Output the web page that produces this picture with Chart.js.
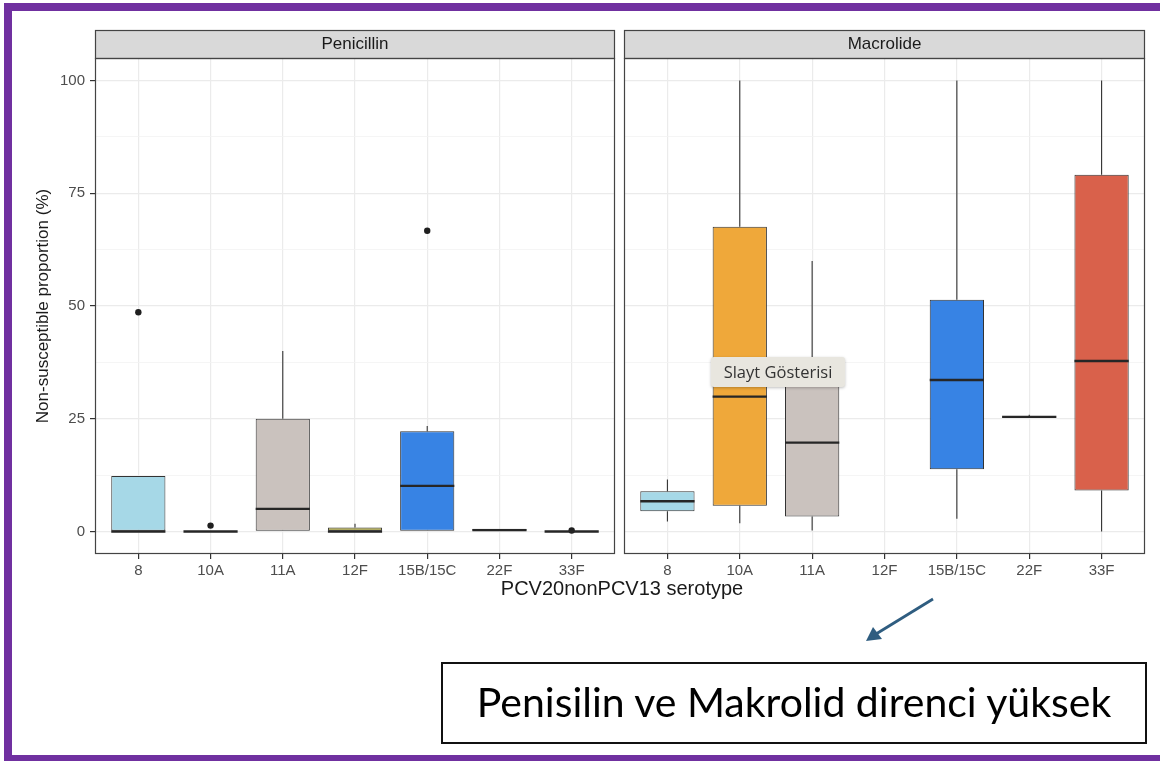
<!DOCTYPE html>
<html>
<head>
<meta charset="utf-8">
<title>Non-susceptible proportion by serotype</title>
<script src="https://cdn.jsdelivr.net/npm/chart.js@4.4.1/dist/chart.umd.min.js"></script>
<style>
  html, body { margin: 0; padding: 0; background: #fff; }
  body { width: 1160px; height: 761px; position: relative; overflow: hidden;
         font-family: "Liberation Sans", Arial, sans-serif; }
  .frame { position: absolute; left: 4px; top: 3px; width: 1156px; height: 758px;
           box-sizing: border-box; border-top: 8px solid #7030a0;
           border-left: 8px solid #7030a0; border-bottom: 6px solid #7030a0; }
  .panel { position: absolute; top: 0; height: 610px; }
  #penWrap { left: 0; width: 620px; }
  #macWrap { left: 620px; width: 540px; }
  .xtitle { position: absolute; left: 422px; width: 400px; top: 577px; text-align: center;
            font-size: 20px; color: #1a1a1a; }
  .popup { position: absolute; left: 711px; top: 357px; width: 134px; height: 30px;
           background: #e8e6df; border-radius: 3px; box-shadow: 0 1px 3px rgba(0,0,0,0.25);
           font-family: "Open Sans", "Noto Sans", sans-serif; font-size: 16.5px; color: #333;
           line-height: 30px; text-align: center; }
  .note { position: absolute; left: 441px; top: 662px; width: 706px; height: 82px;
          box-sizing: border-box; border: 2px solid #111; text-align: center;
          font-family: Lato, "Open Sans", sans-serif; font-size: 41px; line-height: 76px; color: #000; }
  svg.arrow { position: absolute; left: 0; top: 0; }
</style>
</head>
<body>
<div class="frame"></div>
<div class="panel" id="penWrap"><canvas id="pen" width="620" height="610"></canvas></div>
<div class="panel" id="macWrap"><canvas id="mac" width="540" height="610"></canvas></div>
<div class="xtitle">PCV20nonPCV13 serotype</div>
<div class="popup">Slayt Gösterisi</div>
<svg class="arrow" width="1160" height="761">
  <line x1="933" y1="599" x2="876" y2="634" stroke="#2f5d80" stroke-width="2.8"/>
  <path d="M866,641 L873,627 L882,639 Z" fill="#2f5d80"/>
</svg>
<div class="note">Penisilin ve Makrolid direnci yüksek</div>

<script>
// Serotypes on the x axis and their fill colours
const serotypes = ['8', '10A', '11A', '12F', '15B/15C', '22F', '33F'];
const boxColors = ['#a6d8e7', '#efa83a', '#cac2be', '#a8a23e', '#3783e4', '#6b6b6b', '#d9614b'];

// Y axis: labelled major ticks and unlabelled minor grid lines
const yMajorTicks = [0, 25, 50, 75, 100];
const yMinorTicks = [12.5, 37.5, 62.5, 87.5];

// Penicillin: five-number summaries per serotype
const penLow    = [0,    0,   0,   0,   0,    0,   0];
const penQ1     = [0,    0,   0,   0,   0,    0,   0];
const penMedian = [0,    0,   5,   0,   10.1, 0.3, 0];
const penQ3     = [12.3, 0,   25,  0.9, 22.2, 0.6, 0];
const penHigh   = [12.3, 0,   40,  1.7, 23.4, 0.6, 0];
const penOutlierSerotype = ['8', '10A', '15B/15C', '33F'];
const penOutlierValue    = [48.6, 1.3, 66.7, 0.2];

// Macrolide: five-number summaries per serotype (12F has no isolates)
const macLow    = [2.2, 1.8,  0.2,  null, 2.8,  25.4, 0];
const macQ1     = [4.5, 5.7,  3.3,  null, 13.8, 25.4, 9.1];
const macMedian = [6.7, 29.9, 19.7, null, 33.6, 25.4, 37.8];
const macQ3     = [8.9, 67.6, 33.3, null, 51.4, 25.4, 79.1];
const macHigh   = [11.5, 100, 60,   null, 100,  25.9, 100];
const macOutlierSerotype = [];
const macOutlierValue    = [];

const FONT = '"Liberation Sans", Arial, sans-serif';

// Whiskers and median bars drawn over the floating-bar boxes
const boxDetail = {
  id: 'boxDetail',
  afterDatasetsDraw(chart) {
    const st = chart.options.plugins.boxDetail;
    const meta = chart.getDatasetMeta(0);
    const ds = chart.data.datasets[0];
    const yS = chart.scales.y;
    const ctx = chart.ctx;
    ctx.save();
    meta.data.forEach((el, j) => {
      const i = ds.data[j].x;
      const x = el.x, half = el.width / 2;
      ctx.strokeStyle = '#333333';
      ctx.lineWidth = 1.1;
      ctx.beginPath();
      ctx.moveTo(x, yS.getPixelForValue(st.high[i]));
      ctx.lineTo(x, yS.getPixelForValue(st.q3[i]));
      ctx.moveTo(x, yS.getPixelForValue(st.q1[i]));
      ctx.lineTo(x, yS.getPixelForValue(st.low[i]));
      ctx.stroke();
      ctx.strokeStyle = '#262626';
      ctx.lineWidth = 2.4;
      const ym = yS.getPixelForValue(st.median[i]);
      ctx.beginPath();
      ctx.moveTo(x - half, ym);
      ctx.lineTo(x + half, ym);
      ctx.stroke();
    });
    ctx.restore();
  }
};

// Facet strip above the panel and the panel border
const facetFrame = {
  id: 'facetFrame',
  afterDraw(chart) {
    const a = chart.chartArea;
    const ctx = chart.ctx;
    const label = chart.options.plugins.facetFrame.label;
    ctx.save();
    ctx.fillStyle = '#d9d9d9';
    ctx.fillRect(a.left, a.top - 28, a.right - a.left, 28);
    ctx.strokeStyle = '#444444';
    ctx.lineWidth = 1.2;
    ctx.strokeRect(a.left + 0.5, a.top - 28 + 0.5, a.right - a.left - 1, 28);
    ctx.strokeRect(a.left + 0.5, a.top + 0.5, a.right - a.left - 1, a.bottom - a.top - 1);
    ctx.fillStyle = '#1a1a1a';
    ctx.font = '17px ' + FONT;
    ctx.textAlign = 'center';
    ctx.textBaseline = 'middle';
    ctx.fillText(label, (a.left + a.right) / 2, a.top - 14);
    ctx.restore();
  }
};

function makePanel(canvasId, title, low, q1, median, q3, high, outSero, outVal, withYAxis, padding) {
  const boxes = [];
  serotypes.forEach((s, i) => {
    if (q1[i] !== null) boxes.push({ x: i, y: [q1[i], q3[i]] });
  });
  const outliers = outSero.map((s, k) => ({ x: serotypes.indexOf(s), y: outVal[k] }));
  const yAll = yMajorTicks.concat(yMinorTicks).sort((a, b) => a - b);

  return new Chart(document.getElementById(canvasId), {
    type: 'bar',
    data: {
      datasets: [
        {
          type: 'bar',
          data: boxes,
          backgroundColor: c => boxColors[c.raw.x],
          borderColor: '#333333',
          borderWidth: 1,
          borderSkipped: false,
          categoryPercentage: 1,
          barPercentage: 0.75,
          order: 2
        },
        {
          type: 'scatter',
          data: outliers,
          pointRadius: 3.2,
          pointBackgroundColor: '#1f1f1f',
          pointBorderWidth: 0,
          showLine: false,
          order: 1
        }
      ]
    },
    options: {
      responsive: false,
      animation: false,
      events: [],
      layout: { padding: padding },
      plugins: {
        legend: { display: false },
        tooltip: { enabled: false },
        boxDetail: { low, q1, median, q3, high },
        facetFrame: { label: title }
      },
      scales: {
        x: {
          type: 'linear',
          offset: false,
          min: -0.6,
          max: 6.6,
          afterBuildTicks: s => { s.ticks = serotypes.map((_, i) => ({ value: i })); },
          afterFit: s => { s.height = 56; },
          ticks: {
            callback: v => serotypes[v],
            autoSkip: false,
            maxRotation: 0,
            padding: 3,
            color: '#4d4d4d',
            font: { family: FONT, size: 15 }
          },
          grid: { offset: false, color: '#ebebeb', lineWidth: 1.2, tickLength: 5, tickColor: '#333333' },
          border: { display: false }
        },
        y: {
          type: 'linear',
          min: -5,
          max: 105,
          afterBuildTicks: s => { s.ticks = yAll.map(v => ({ value: v })); },
          afterFit: s => { s.width = withYAxis ? 95 : 0; },
          ticks: {
            display: withYAxis,
            autoSkip: false,
            callback: v => (yMajorTicks.includes(v) ? String(v) : ''),
            padding: 5,
            color: '#4d4d4d',
            font: { family: FONT, size: 15 }
          },
          grid: {
            color: c => (yMajorTicks.includes(c.tick.value) ? '#ebebeb' : '#f3f3f3'),
            lineWidth: c => (yMajorTicks.includes(c.tick.value) ? 1.2 : 0.8),
            tickColor: c => (yMajorTicks.includes(c.tick.value) ? '#333333' : 'rgba(0,0,0,0)'),
            tickLength: 5,
            drawTicks: withYAxis
          },
          border: { display: false },
          title: {
            display: withYAxis,
            text: 'Non-susceptible proportion (%)',
            color: '#1a1a1a',
            font: { family: FONT, size: 17 },
            padding: { top: 33, bottom: 0 }
          }
        }
      }
    },
    plugins: [boxDetail, facetFrame]
  });
}

makePanel('pen', 'Penicillin', penLow, penQ1, penMedian, penQ3, penHigh,
          penOutlierSerotype, penOutlierValue, true, { top: 58, left: 0, right: 5, bottom: 0 });
makePanel('mac', 'Macrolide', macLow, macQ1, macMedian, macQ3, macHigh,
          macOutlierSerotype, macOutlierValue, false, { top: 58, left: 4, right: 15, bottom: 0 });
</script>
</body>
</html>
